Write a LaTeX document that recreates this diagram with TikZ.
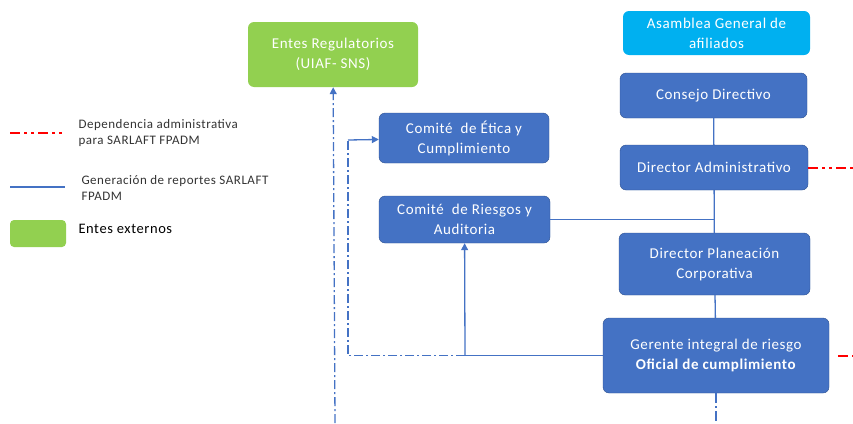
\documentclass[tikz,border=0pt]{standalone}
\usepackage{fontspec}
\setmainfont{Carlito}[LetterSpace=4]
\usetikzlibrary{arrows.meta}
\definecolor{boxblue}{HTML}{4472C4}
\definecolor{boxedge}{HTML}{2F528F}
\definecolor{linkblue}{HTML}{4472C4}
\definecolor{linkred}{HTML}{FF0000}
\definecolor{extgreen}{HTML}{92D050}
\definecolor{topcyan}{HTML}{00B0F0}
\begin{document}
\begin{tikzpicture}[x=1pt,y=-1pt,
    box/.style={shape=rectangle,rounded corners=6pt,draw=boxedge,fill=boxblue,
      text=white,align=center,inner sep=0pt,font=\fontsize{15}{20}\selectfont},
    link/.style={draw=linkblue,line width=1.3pt},
    dashdot/.style={link,dash pattern=on 9pt off 3pt on 2pt off 3pt},
    reddash/.style={draw=linkred,line width=2pt,dash pattern=on 10pt off 4pt on 3pt off 4pt on 3pt off 4pt},
    tip/.style={-{Triangle[width=7pt,length=7pt]}},
    legend/.style={anchor=west,align=left,text=black!80,font=\fontsize{13}{16}\selectfont}]
    \useasboundingbox (0,0) rectangle (853,423);
    \path (333,54.5) node (er) [box,draw=none,fill=extgreen,minimum width=170pt,minimum height=65pt] {Entes Regulatorios\\(UIAF- SNS)}
    (716.5,33) node (ag) [box,draw=none,fill=topcyan,minimum width=187pt,minimum height=44pt] {Asamblea General de\\afiliados}
    (713.5,95.5) node (cd) [box,minimum width=187pt,minimum height=45pt] {Consejo Directivo}
    (714,167.5) node (da) [box,minimum width=188pt,minimum height=45pt] {Director Administrativo}
    (714.5,264) node (dp) [box,minimum width=191pt,minimum height=62pt] {Director Planeación\\Corporativa}
    (716,355.5) node (gi) [box,minimum width=226pt,minimum height=75pt] {Gerente integral de riesgo\\\textbf{Oficial de cumplimiento}}
    (464,138) node (ce) [box,minimum width=170pt,minimum height=50pt] {Comité~ de Ética y\\Cumplimiento}
    (464.5,219.5) node (cr) [box,minimum width=171pt,minimum height=47pt] {Comité~ de Riesgos y\\Auditoria};
    % puntos de quiebre
    \coordinate (j1) at (714,219.5);
    \coordinate (j2) at (465,355.5);
    \coordinate (j3) at (348,355.5);
    \coordinate (j4) at (348,140);
    \coordinate (e1) at (335,423);
    \coordinate (e2) at (853,167.5);
    \coordinate (e3) at (853,355.5);
    \coordinate (e4) at (716,423);
    \coordinate (r1) at (838,355.5);
    % leyenda
    \coordinate (l1) at (10,133);
    \coordinate (l2) at (62,133);
    \coordinate (l3) at (10,187);
    \coordinate (l4) at (65,187);
    \path (75,133) node (t1) [legend] {Dependencia administrativa\\para SARLAFT FPADM}
    (78,188) node (t2) [legend] {Generación de reportes SARLAFT\\FPADM}
    (38,233.5) node (g1) [box,draw=none,fill=extgreen,rounded corners=4pt,minimum width=56pt,minimum height=27pt] {}
    (75,229) node (t3) [legend,text=black,font=\fontsize{14.5}{16}\selectfont] {Entes externos};
    \draw [reddash] (l1) -- (l2);
    \draw [link] (l3) -- (l4);
    % lineas
    \draw [link] (cd) -- (da);
    \draw [link] (da) -- (dp);
    \draw [link] (cr) -- (j1);
    \draw [link] (dp) -- (gi);
    \draw [link] (gi) -- (j2);
    \draw [link,tip] (j2) -- (cr);
    \draw [dashdot] (j2) -- (j3) -- (j4);
    \draw [link,tip] (j4) -- (ce);
    \draw [dashdot,tip] (e1) -- (er);
    \draw [reddash] (da) -- (e2);
    \draw [reddash] (r1) -- (e3);
    \draw [link,dash pattern=on 10pt off 3pt on 2pt off 3pt] (gi) -- (e4);
\end{tikzpicture}
\end{document}
